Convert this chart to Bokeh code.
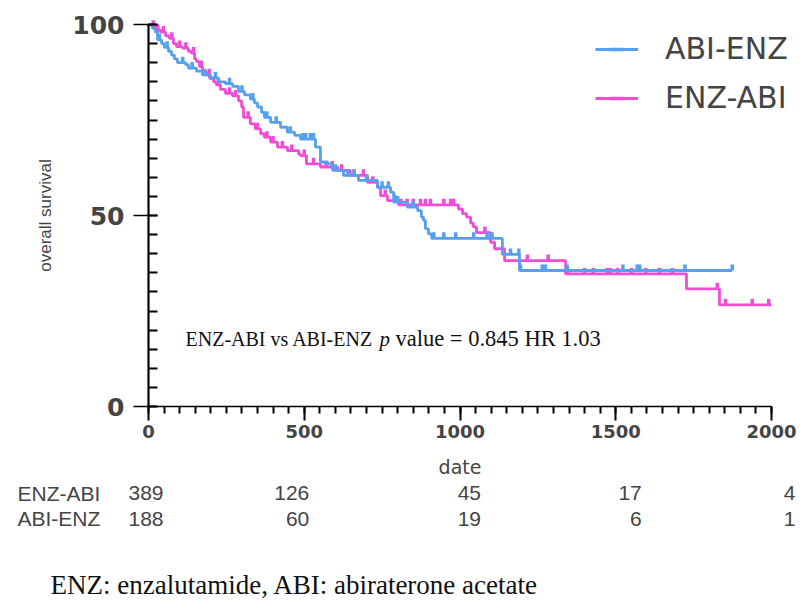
import math
from bokeh.plotting import figure
from bokeh.models import (Range1d, LinearAxis, FixedTicker, Legend, LegendItem,
                          ColumnDataSource, Label)
from bokeh.embed import file_html
from bokeh.resources import INLINE
from bokeh.core.properties import value

# ---------------- data ----------------
# ABI-ENZ (blue) Kaplan-Meier steps: time (days), survival (%) after step
abi_enz_t = [0, 13, 22, 29, 42, 51, 64, 74, 83, 93, 119, 128, 154, 173, 199, 225, 247, 270, 289, 308,
             327, 340, 350, 363, 372, 392, 424, 446, 469, 488, 536, 552, 575, 591, 626, 674, 735, 777,
             787, 831, 864, 876, 883, 889, 899, 909, 1136, 1191]
abi_enz_s = [100, 99, 98, 96, 95, 94, 93, 92, 91, 90, 89.5, 88.6, 87.8, 86.8, 86, 85, 84.5, 83.8, 82.5, 81.6,
             80.5, 79.5, 78.4, 77, 75.7, 74.4, 73.1, 71.8, 71, 70, 67.9, 64, 63.5, 61.8, 60.5, 59.2, 57.4, 56.1,
             53.5, 52.2, 51.3, 49.6, 48.7, 46.5, 45.2, 44, 39.8, 35.6]
abi_enz_last = 1874
abi_enz_cens = [35, 60, 110, 140, 180, 215, 260, 300, 335, 380, 410, 455, 495, 505, 520, 530, 600, 640,
                660, 700, 750, 770, 800, 850, 916, 948, 986, 1044, 1087, 1103, 1162, 1189, 1194, 1264,
                1274, 1344, 1523, 1569, 1577, 1722, 1874]

# ENZ-ABI (pink)
enz_abi_t = [0, 10, 22, 39, 55, 67, 80, 90, 109, 128, 138, 148, 154, 164, 173, 186, 196, 209, 218, 231,
             247, 270, 289, 299, 305, 327, 343, 360, 372, 392, 414, 446, 482, 488, 507, 552, 607, 648,
             703, 735, 745, 767, 803, 995, 1008, 1021, 1034, 1043, 1053, 1098, 1111, 1143, 1339, 1727, 1833]
enz_abi_s = [100, 99.5, 98.5, 98, 97, 96.4, 95, 94.2, 93.8, 93, 92.5, 91, 90.3, 89, 87.7, 86.8, 85.9, 85, 84.2, 83,
             82, 81.3, 80, 78.4, 75.7, 74, 72.7, 71.4, 70.5, 69.2, 67.9, 67, 66.1, 65.7, 63.5, 62.7, 61.8, 60.5,
             58.7, 57.4, 55.2, 53.9, 52.8, 51.7, 50.5, 49.6, 48, 47, 45.5, 43, 41.3, 38.2, 34.7, 30.8, 26.6]
enz_abi_last = 2000
enz_abi_cens = [15, 30, 48, 75, 100, 120, 145, 170, 195, 225, 260, 280, 320, 350, 380, 400, 430, 460, 500,
                530, 570, 590, 620, 660, 690, 720, 760, 790, 810, 830, 850, 873, 889, 905, 948, 970, 980,
                1080, 1216, 1283, 1345, 1400, 1428, 1473, 1483, 1506, 1551, 1596, 1640, 1682, 1826, 1852,
                1938, 1991]

# number at risk table
risk_days = [0, 500, 1000, 1500, 2000]
enz_abi_risk = [389, 126, 45, 17, 4]
abi_enz_risk = [188, 60, 19, 6, 1]

x_ticks = [0, 500, 1000, 1500, 2000]
y_ticks = [0, 50, 100]

BLUE = "#56A0F2"
PINK = "#F04DD6"

# ---------------- layout ----------------
W, H = 800, 600
X0_PX, PX_PER_DAY = 148, 0.3115
Y0_PX, PX_PER_PCT = 406, 3.82
x_start = -X0_PX / PX_PER_DAY
x_end = (W - X0_PX) / PX_PER_DAY
y_end = Y0_PX / PX_PER_PCT
y_start = (Y0_PX - H) / PX_PER_PCT

p = figure(width=W, height=H, output_backend="svg", toolbar_location=None, title=None,
           x_range=Range1d(x_start, x_end), y_range=Range1d(y_start, y_end),
           x_axis_type=None, y_axis_type=None,
           min_border=0, min_border_left=0, min_border_right=0, min_border_top=0, min_border_bottom=0)
p.outline_line_color = None
p.background_fill_color = "white"
p.border_fill_color = "white"


def step_value(ts, ss, t):
    v = ss[0]
    for ti, si in zip(ts, ss):
        if ti <= t:
            v = si
    return v


def draw_curve(ts, ss, last, cens, color):
    xs = list(ts) + [last]
    ys = list(ss) + [ss[-1]]
    line = p.step(xs, ys, mode="after", line_color=color, line_width=2.8)
    cy = [step_value(ts, ss, c) + 0.8 for c in cens]
    marks = p.scatter(cens, cy, marker="dash", angle=math.pi / 2, size=6,
                      line_color=color, line_width=3.5, fill_color=color)
    return line, marks


pink_line, pink_marks = draw_curve(enz_abi_t, enz_abi_s, enz_abi_last, enz_abi_cens, PINK)
blue_line, blue_marks = draw_curve(abi_enz_t, abi_enz_s, abi_enz_last, abi_enz_cens, BLUE)

# ---------------- axes ----------------
xaxis = LinearAxis(fixed_location=0, bounds=(0, 2000),
                   ticker=FixedTicker(ticks=x_ticks, minor_ticks=list(range(0, 2001, 50))),
                   axis_label="date")
xaxis.axis_line_width = 1.5
xaxis.major_tick_line_width = 2
xaxis.minor_tick_line_width = 2
xaxis.major_tick_out = 14
xaxis.major_tick_in = 0
xaxis.minor_tick_out = 7
xaxis.minor_tick_in = 0
xaxis.major_label_text_font = "DejaVu Sans"
xaxis.major_label_text_font_style = "bold"
xaxis.major_label_text_font_size = "18px"
xaxis.major_label_standoff = 4
xaxis.axis_label_text_font = "DejaVu Sans"
xaxis.axis_label_text_font_style = "normal"
xaxis.axis_label_text_font_size = "19px"
xaxis.axis_label_standoff = 15
p.add_layout(xaxis, "below")

yaxis = LinearAxis(fixed_location=0, bounds=(0, 100),
                   ticker=FixedTicker(ticks=y_ticks, minor_ticks=list(range(0, 101, 5))),
                   axis_label="overall survival")
yaxis.axis_line_width = 2.2
yaxis.major_tick_line_width = 1.5
yaxis.minor_tick_line_width = 2
yaxis.major_tick_out = 15
yaxis.major_tick_in = 9
yaxis.minor_tick_out = 0
yaxis.minor_tick_in = 9
yaxis.major_label_text_font = "DejaVu Sans"
yaxis.major_label_text_font_style = "bold"
yaxis.major_label_text_font_size = "25px"
yaxis.major_label_standoff = 9
yaxis.axis_label_text_font = "Liberation Sans"
yaxis.axis_label_text_font_style = "normal"
yaxis.axis_label_text_font_size = "17px"
yaxis.axis_label_standoff = 14
p.add_layout(yaxis, "left")

p.xgrid.visible = False
p.ygrid.visible = False

# ---------------- legend ----------------
legend = Legend(items=[LegendItem(label="ABI-ENZ", renderers=[blue_line, blue_marks]),
                       LegendItem(label="ENZ-ABI", renderers=[pink_line, pink_marks])],
                location=(595, H - 115.5))
legend.border_line_color = None
legend.background_fill_alpha = 0
legend.padding = 0
legend.margin = 0
legend.spacing = 13
legend.glyph_width = 43
legend.glyph_height = 36
legend.label_height = 36
legend.label_standoff = 27
legend.label_text_font = "DejaVu Sans"
legend.label_text_font_size = "30px"
legend.label_text_baseline = "middle"
p.add_layout(legend)

# ---------------- number at risk ----------------
col_offsets = [15, 5, 21, 26, 24]
risk_src = ColumnDataSource(dict(
    x=risk_days + risk_days,
    y=[0] * 10,
    text=[str(v) for v in enz_abi_risk] + [str(v) for v in abi_enz_risk],
    xo=col_offsets + col_offsets,
    yo=[86.5] * 5 + [112] * 5,
))
p.text(x="x", y="y", text="text", x_offset="xo", y_offset="yo", source=risk_src,
       text_align="right", text_baseline="middle", text_font=value("Liberation Sans"),
       text_font_size="21px", text_color="#444444")

for lbl, ytop in [("ENZ-ABI", 492.5), ("ABI-ENZ", 518)]:
    p.add_layout(Label(x=17, y=H - ytop, x_units="screen", y_units="screen", text=lbl,
                       text_font="Liberation Sans", text_font_size="21px", text_color="#444444",
                       text_baseline="middle", text_align="left"))

# ---------------- annotation ----------------
ann_y = H - 338
p.add_layout(Label(x=185, y=ann_y, x_units="screen", y_units="screen",
                   text="ENZ-ABI vs ABI-ENZ", text_font="Liberation Serif", text_font_size="20px",
                   text_baseline="middle", text_align="left", text_color="#111111"))
p.add_layout(Label(x=379, y=ann_y, x_units="screen", y_units="screen",
                   text="p", text_font="Liberation Serif", text_font_size="21px", text_font_style="italic",
                   text_baseline="middle", text_align="left", text_color="#111111"))
p.add_layout(Label(x=395, y=ann_y, x_units="screen", y_units="screen",
                   text="value = 0.845 HR  1.03", text_font="Liberation Serif", text_font_size="22.5px",
                   text_baseline="middle", text_align="left", text_color="#111111"))

# ---------------- footnote ----------------
p.add_layout(Label(x=50, y=H - 584, x_units="screen", y_units="screen",
                   text="ENZ: enzalutamide, ABI: abiraterone  acetate", text_font="Liberation Serif",
                   text_font_size="27px", text_baseline="middle", text_align="left",
                   text_color="#111111"))

open("out.html", "w").write(file_html(p, INLINE))
